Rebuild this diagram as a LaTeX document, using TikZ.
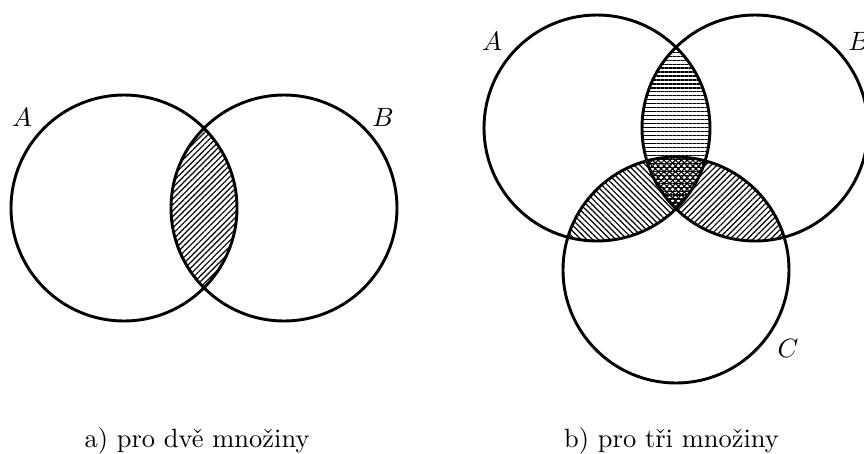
\documentclass[tikz,border=0pt]{standalone}
\usetikzlibrary{patterns.meta}
\tikzset{
  setline/.style={line width=1.1pt},
  hatchNE/.style={pattern={Lines[angle=45,distance=1.55pt,line width=0.45pt]}},
  hatchNW/.style={pattern={Lines[angle=-45,distance=1.55pt,line width=0.45pt]}},
  hatchH/.style={pattern={Lines[angle=0,distance=1.5pt,line width=0.45pt]}},
  setlabel/.style={font=\normalsize\itshape},
}
\begin{document}
\begin{tikzpicture}[x=0.378pt,y=-0.378pt]
\useasboundingbox (0,0) rectangle (864,453);
\def\R{113}
% left diagram
\coordinate (lA) at (124,208);
\coordinate (lB) at (284,208);
\begin{scope}
  \clip (lA) circle (\R);
  \fill[hatchNE] (lB) circle (\R);
\end{scope}
\draw[setline] (lA) circle (\R);
\draw[setline] (lB) circle (\R);
\node (labA1) at (22,117) {$A$};
\node (labB1) at (383,117) {$B$};
\node[anchor=base] (capA) at (197,447) {a) pro dvě množiny};
% right diagram
\coordinate (rA) at (597,128);
\coordinate (rB) at (755,128);
\coordinate (rC) at (676,270);
\begin{scope}
  \clip (rA) circle (\R);
  \fill[hatchH] (rB) circle (\R);
\end{scope}
\begin{scope}
  \clip (rA) circle (\R);
  \fill[hatchNW] (rC) circle (\R);
\end{scope}
\begin{scope}
  \clip (rB) circle (\R);
  \fill[hatchNE] (rC) circle (\R);
\end{scope}
\draw[setline] (rA) circle (\R);
\draw[setline] (rB) circle (\R);
\draw[setline] (rC) circle (\R);
\node (labA2) at (492,41) {$A$};
\node (labB2) at (859,41) {$B$};
\node (labC2) at (788,348) {$C$};
\node[anchor=base] (capB) at (671.5,447) {b) pro tři množiny};
\end{tikzpicture}
\end{document}
